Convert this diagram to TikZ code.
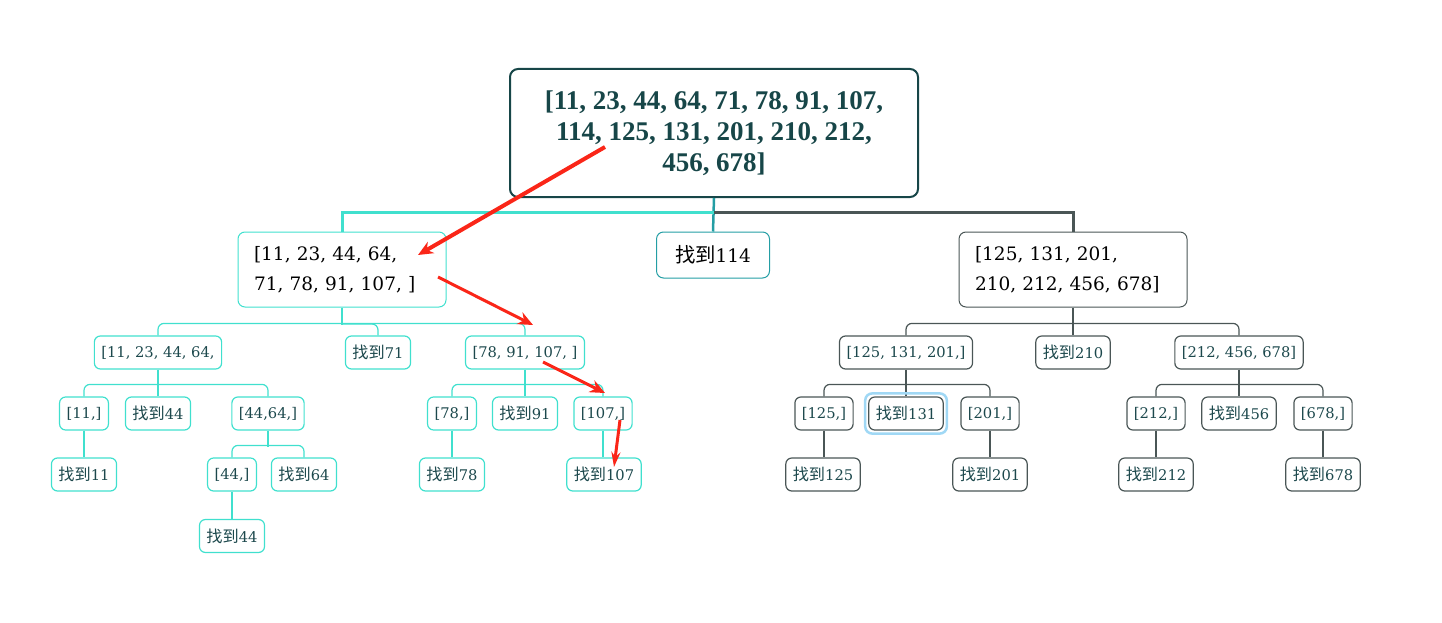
\documentclass[tikz,border=0pt]{standalone}
\usepackage{fontspec}
\setmainfont{DejaVu Serif}
\newfontfamily\rootserif{Liberation Serif}
\newfontfamily\zhfont[Scale=1.1]{Noto Sans CJK SC}
\definecolor{RootColor}{RGB}{23,70,72}
\definecolor{TealColor}{RGB}{64,224,206}
\definecolor{MidTeal}{RGB}{36,158,164}
\definecolor{GreyColor}{RGB}{74,86,86}
\definecolor{TextTeal}{RGB}{28,72,76}
\definecolor{HighBlue}{RGB}{160,216,245}
\definecolor{ArrowRed}{RGB}{250,38,24}
\usetikzlibrary{arrows.meta, positioning, calc}
\newcommand{\leaffont}{\fontsize{14.7pt}{18pt}\selectfont}
\newcommand{\lvfont}{\fontsize{18.5pt}{30pt}\selectfont}
\newcommand{\rootfnt}{\rootserif\bfseries\fontsize{27pt}{31pt}\selectfont}
\newcommand{\zhao}{{\zhfont 找到}}

\begin{document}
\begin{tikzpicture}[x=1pt, y=-1pt,
    tealbox/.style={draw=TealColor, line width=1.2pt, rounded corners=6pt, text=TextTeal,
      minimum height=33pt, inner xsep=7pt, inner ysep=0pt, font=\leaffont},
    greybox/.style={tealbox, draw=GreyColor},
    tealline/.style={draw=TealColor, line width=1.2pt, rounded corners=6pt},
    greyline/.style={draw=GreyColor, line width=1.2pt, rounded corners=6pt},
    redarrow/.style={draw=ArrowRed, line width=3pt, -{Stealth[length=15pt,width=13pt]}}]
  \useasboundingbox (0,0) rectangle (1442,623);

  % root
  \node[draw=RootColor, line width=2pt, rounded corners=8pt, text=RootColor, align=center,
    minimum width=408pt, minimum height=128pt, font=\rootfnt] (root) at (714,133)
    {[11, 23, 44, 64, 71, 78, 91, 107,\\114, 125, 131, 201, 210, 212,\\456, 678]};

  % first level
  \node[draw=TealColor, line width=1pt, rounded corners=7pt, text width=176pt, inner xsep=16pt,
    minimum height=75pt, align=left, font=\lvfont] (lA) at (342,269.5)
    {[11, 23, 44, 64,\\71, 78, 91, 107, ]};
  \node[draw=MidTeal, line width=1pt, rounded corners=7pt, minimum width=113pt,
    minimum height=46pt, font=\lvfont] (f114) at (713,255) {\zhao114};
  \node[draw=GreyColor, line width=1pt, rounded corners=7pt, text width=196pt, inner xsep=16pt,
    minimum height=75pt, align=left, font=\lvfont] (lB) at (1073,269.5)
    {[125, 131, 201,\\210, 212, 456, 678]};

  \draw[MidTeal, line width=2.5pt] (root.south) -- (f114.north);
  \draw[TealColor, line width=3pt] (root.south |- 0,212) -- (lA.north |- 0,212) -- (lA.north);
  \draw[GreyColor, line width=3pt] (root.south |- 0,212) -- (lB.north |- 0,212) -- (lB.north);

  % left half
  \node[tealbox] (a1) at (158,352.5) {[11, 23, 44, 64,};
  \node[tealbox] (a2) at (378,352.5) {\zhao71};
  \node[tealbox] (a3) at (525,352.5) {[78, 91, 107, ]};
  \draw[tealline] (lA.south) -- ++(0,17);
  \draw[tealline] (a1.north) -- ++(0,-12) -| (a3.north);
  \draw[tealline] (lA.south |- 0,324) -| (a2.north);

  \node[tealbox] (a11) at (84,413.5) {[11,]};
  \node[tealbox] (a12) at (158,413.5) {\zhao44};
  \node[tealbox] (a13) at (268,413.5) {[44,64,]};
  \draw[tealline] (a11.north) -- ++(0,-12) -| (a13.north);
  \draw[tealline] (a1.south) -- (a12.north);

  \node[tealbox] (a111) at (84,474.5) {\zhao11};
  \draw[tealline] (a11.south) -- (a111.north);

  \node[tealbox] (a131) at (232,474.5) {[44,]};
  \node[tealbox] (a132) at (304,474.5) {\zhao64};
  \draw[tealline] (a131.north) -- ++(0,-12) -| (a132.north);
  \draw[tealline] (a13.south) -- ++(0,16);

  \node[tealbox] (a1311) at (232,536) {\zhao44};
  \draw[tealline] (a131.south) -- (a1311.north);

  \node[tealbox] (a31) at (452,413.5) {[78,]};
  \node[tealbox] (a32) at (525,413.5) {\zhao91};
  \node[tealbox] (a33) at (603,413.5) {[107,]};
  \draw[tealline] (a31.north) -- ++(0,-12) -| (a33.north);
  \draw[tealline] (a3.south) -- (a32.north);

  \node[tealbox] (a311) at (452,474.5) {\zhao78};
  \draw[tealline] (a31.south) -- (a311.north);
  \node[tealbox] (a331) at (604,474.5) {\zhao107};
  \draw[tealline] (a33.south) -- (a33.south |- a331.north);

  % right half
  \node[greybox] (b1) at (906,352.5) {[125, 131, 201,]};
  \node[greybox] (b2) at (1073,352.5) {\zhao210};
  \node[greybox] (b3) at (1239,352.5) {[212, 456, 678]};
  \draw[greyline] (b1.north) -- ++(0,-12) -| (b3.north);
  \draw[greyline] (lB.south) -- (b2.north);

  \node[greybox] (b11) at (824,413.5) {[125,]};
  \node[greybox] (b12) at (906,413.5) {\zhao131};
  \node[greybox] (b13) at (990,413.5) {[201,]};
  \draw[greyline] (b11.north) -- ++(0,-12) -| (b13.north);
  \draw[greyline] (b1.south) -- (b12.north);
  \draw[HighBlue, line width=2.5pt, rounded corners=7pt]
    ([shift={(-3,3)}]b12.south west) rectangle ([shift={(3,-3)}]b12.north east);

  \node[greybox] (b111) at (823,474.5) {\zhao125};
  \draw[greyline] (b11.south) -- (b11.south |- b111.north);
  \node[greybox] (b131) at (990,474.5) {\zhao201};
  \draw[greyline] (b13.south) -- (b131.north);

  \node[greybox] (b31) at (1156,413.5) {[212,]};
  \node[greybox] (b32) at (1239,413.5) {\zhao456};
  \node[greybox] (b33) at (1323,413.5) {[678,]};
  \draw[greyline] (b31.north) -- ++(0,-12) -| (b33.north);
  \draw[greyline] (b3.south) -- (b32.north);

  \node[greybox] (b311) at (1156,474.5) {\zhao212};
  \draw[greyline] (b31.south) -- (b311.north);
  \node[greybox] (b331) at (1323,474.5) {\zhao678};
  \draw[greyline] (b33.south) -- (b331.north);

  % search path
  \coordinate (p1) at (605,147);
  \coordinate (p2) at (418,255);
  \coordinate (p3) at (438,277);
  \coordinate (p4) at (533,325);
  \coordinate (p5) at (543,362);
  \coordinate (p6) at (605,393);
  \coordinate (p7) at (620,420);
  \coordinate (p8) at (614,467);
  \draw[redarrow, line width=4pt] (p1) -- (p2);
  \draw[redarrow] (p3) -- (p4);
  \draw[redarrow] (p5) -- (p6);
  \draw[redarrow, -{Stealth[length=15pt,width=9pt]}] (p7) -- (p8);
\end{tikzpicture}
\end{document}
